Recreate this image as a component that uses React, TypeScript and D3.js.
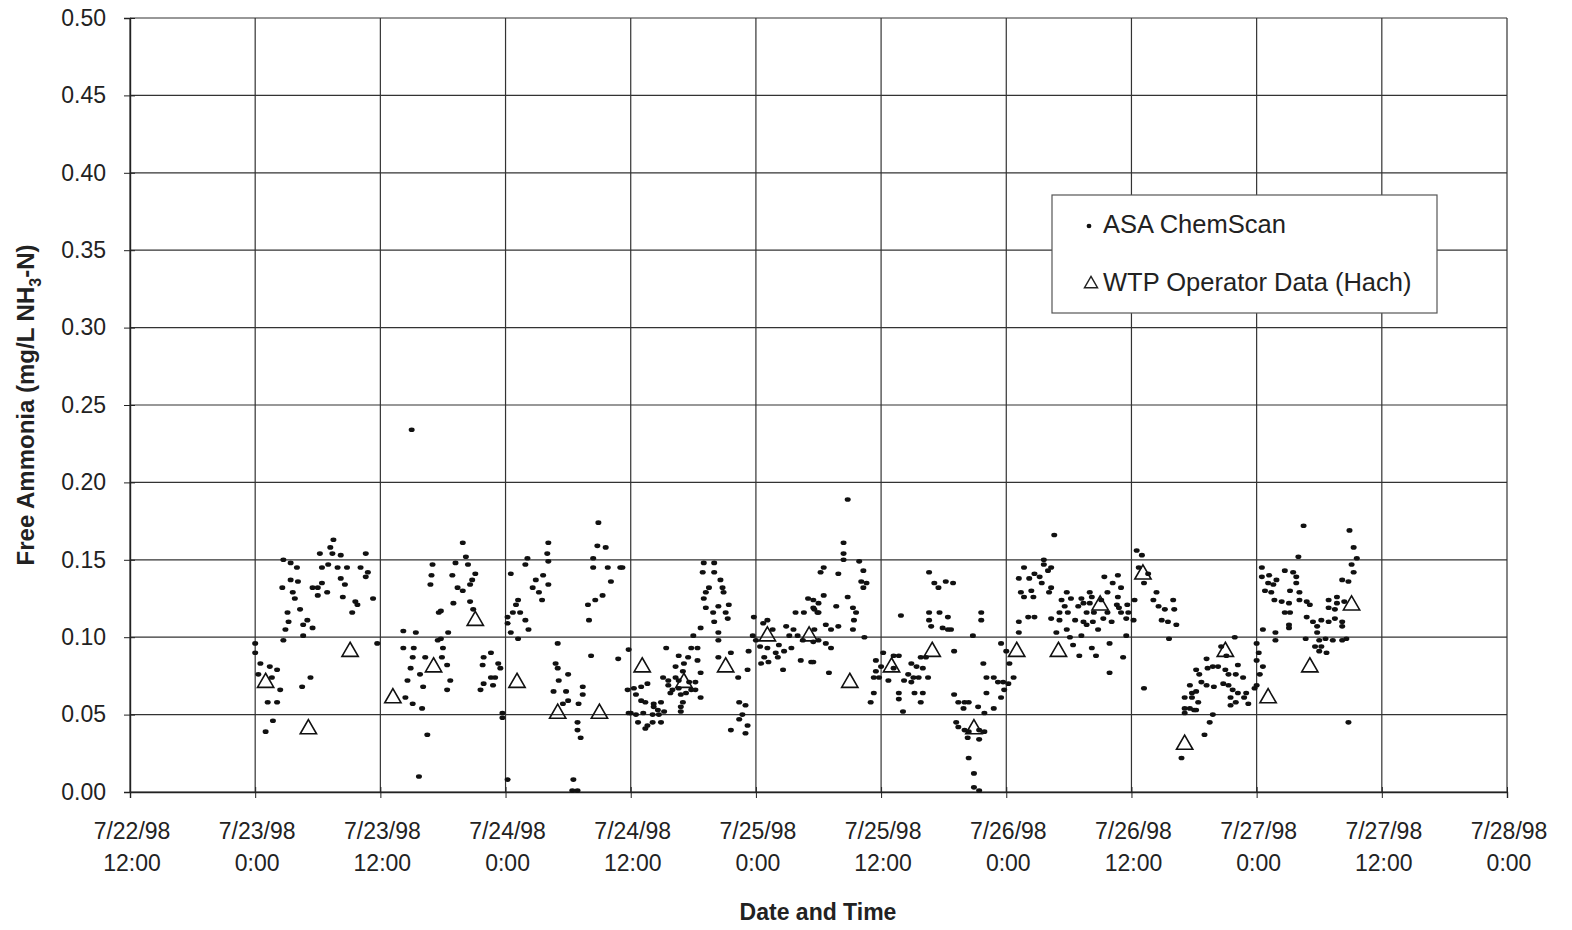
import React, { useEffect, useRef } from 'react';
import * as d3 from 'd3';

// hours since 7/23/98 0:00
const xTickHours = [-12, 0, 12, 24, 36, 48, 60, 72, 84, 96, 108, 120];
const xTickDates = ['7/22/98', '7/23/98', '7/23/98', '7/24/98', '7/24/98', '7/25/98', '7/25/98', '7/26/98', '7/26/98', '7/27/98', '7/27/98', '7/28/98'];
const xTickTimes = ['12:00', '0:00', '12:00', '0:00', '12:00', '0:00', '12:00', '0:00', '12:00', '0:00', '12:00', '0:00'];
const yTicks = [0, 0.05, 0.1, 0.15, 0.2, 0.25, 0.3, 0.35, 0.4, 0.45, 0.5];

// WTP Operator Data (Hach)
const hachHours = [1, 5.1, 9.1, 13.2, 17.1, 21.1, 25.1, 29, 33, 37.1, 41.1, 45.1, 49.1, 53.1, 57, 61, 64.9, 68.9, 73, 77, 81, 85.1, 89.1, 93, 97.1, 101.1, 105.1];
const hachValues = [0.07, 0.04, 0.09, 0.06, 0.08, 0.11, 0.07, 0.05, 0.05, 0.08, 0.07, 0.08, 0.1, 0.1, 0.07, 0.08, 0.09, 0.04, 0.09, 0.09, 0.12, 0.14, 0.03, 0.09, 0.06, 0.08, 0.12];

// ASA ChemScan [hours, mg/L]
const chemScan: [number, number][] = [
  [0, 0.096], [0, 0.09], [0.3, 0.076], [0.5, 0.083], [1.0, 0.039], [1.2, 0.058], [1.4, 0.081], [1.6, 0.074], [1.7, 0.046], [2.1, 0.079],
  [2.1, 0.058], [2.4, 0.066], [2.6, 0.132], [2.7, 0.15], [2.7, 0.098], [2.9, 0.105], [3.1, 0.116], [3.2, 0.11], [3.4, 0.148], [3.4, 0.137],
  [3.6, 0.129], [3.8, 0.125], [4.0, 0.145], [4.1, 0.136], [4.3, 0.118], [4.5, 0.068], [4.6, 0.108], [4.6, 0.101], [5.0, 0.111], [5.3, 0.074],
  [5.5, 0.132], [5.5, 0.106], [6.0, 0.132], [6.0, 0.127], [6.2, 0.154], [6.4, 0.145], [6.4, 0.135], [6.9, 0.129], [7.0, 0.147], [7.2, 0.158],
  [7.4, 0.154], [7.5, 0.163], [7.9, 0.145], [8.2, 0.153], [8.2, 0.138], [8.4, 0.126], [8.6, 0.134], [8.8, 0.145], [9.3, 0.116], [9.6, 0.123],
  [9.8, 0.121], [10.1, 0.145], [10.6, 0.154], [10.6, 0.139], [10.8, 0.142], [11.3, 0.125], [11.7, 0.096],
  [14.2, 0.104], [14.2, 0.093], [14.4, 0.061], [14.6, 0.072], [14.9, 0.08], [15.0, 0.234], [15.1, 0.087], [15.1, 0.057], [15.2, 0.093], [15.4, 0.103],
  [15.7, 0.01], [15.8, 0.076], [16.0, 0.054], [16.1, 0.068], [16.3, 0.087], [16.5, 0.037], [16.8, 0.134], [16.9, 0.14], [17.0, 0.147], [17.5, 0.098],
  [17.6, 0.116], [17.8, 0.117], [17.8, 0.099], [17.9, 0.087], [18.0, 0.093], [18.4, 0.082], [18.4, 0.066], [18.5, 0.103], [18.7, 0.072], [18.9, 0.14],
  [19.0, 0.122], [19.2, 0.148], [19.4, 0.132], [19.9, 0.161], [19.9, 0.13], [20.2, 0.152], [20.4, 0.147], [20.6, 0.134], [20.6, 0.123], [20.8, 0.137],
  [20.9, 0.118], [21.1, 0.141], [21.6, 0.066], [21.8, 0.082], [21.9, 0.087], [21.9, 0.07], [22.6, 0.09], [22.6, 0.074], [22.8, 0.069], [23.0, 0.074],
  [23.3, 0.083], [23.5, 0.08], [23.7, 0.051], [23.7, 0.048], [24.2, 0.113], [24.2, 0.109], [24.2, 0.008], [24.5, 0.141], [24.5, 0.103], [24.7, 0.116],
  [25.0, 0.121], [25.2, 0.124], [25.2, 0.099], [25.4, 0.116], [25.9, 0.147], [25.9, 0.111], [26.1, 0.151], [26.2, 0.105], [26.6, 0.132], [26.9, 0.137],
  [27.2, 0.129], [27.5, 0.124], [27.6, 0.14], [28.0, 0.154], [28.1, 0.161], [28.1, 0.149], [28.1, 0.134], [28.6, 0.065], [28.8, 0.083], [29.0, 0.096],
  [29.0, 0.08], [29.1, 0.072], [29.5, 0.057], [29.8, 0.065], [30.0, 0.076], [30.0, 0.059], [30.4, 0.001], [30.5, 0.008], [30.9, 0.045], [30.9, 0.04],
  [30.9, 0.001], [31.0, 0.057], [31.2, 0.035], [31.4, 0.068], [31.4, 0.063], [31.9, 0.121], [32.0, 0.111], [32.2, 0.088], [32.4, 0.151], [32.4, 0.145],
  [32.6, 0.124], [32.8, 0.159], [32.9, 0.174], [33.3, 0.127], [33.6, 0.158], [33.8, 0.145], [34.1, 0.136], [34.8, 0.086], [35.0, 0.145], [35.2, 0.145],
  [35.7, 0.066], [35.8, 0.092], [35.8, 0.051], [36.0, 0.051], [36.3, 0.067], [36.5, 0.063], [36.5, 0.05], [36.7, 0.045], [37.0, 0.068], [37.0, 0.059],
  [37.2, 0.051], [37.4, 0.058], [37.4, 0.041], [37.6, 0.07], [37.6, 0.043], [38.1, 0.05], [38.1, 0.045], [38.2, 0.057], [38.2, 0.055], [38.6, 0.053],
  [38.7, 0.05], [38.9, 0.058], [38.9, 0.045], [39.1, 0.074], [39.2, 0.052], [39.4, 0.093], [39.6, 0.072], [39.6, 0.069], [39.8, 0.064], [40.0, 0.066],
  [40.3, 0.081], [40.3, 0.074], [40.6, 0.088], [40.6, 0.072], [40.6, 0.067], [40.8, 0.063], [40.8, 0.055], [40.8, 0.052], [41.0, 0.078], [41.0, 0.058],
  [41.1, 0.083], [41.3, 0.064], [41.5, 0.087], [41.6, 0.071], [41.8, 0.093], [41.8, 0.066], [42.0, 0.101], [42.2, 0.071], [42.2, 0.066], [42.4, 0.093],
  [42.4, 0.085], [42.7, 0.106], [42.7, 0.077], [42.7, 0.061], [42.9, 0.142], [43.0, 0.148], [43.0, 0.125], [43.2, 0.129], [43.2, 0.119], [43.5, 0.132],
  [43.9, 0.116], [44.0, 0.148], [44.0, 0.142], [44.0, 0.11], [44.4, 0.12], [44.4, 0.103], [44.4, 0.098], [44.4, 0.087], [44.6, 0.137], [44.8, 0.132],
  [44.9, 0.129], [45.1, 0.116], [45.3, 0.112], [45.4, 0.121], [45.6, 0.09], [45.6, 0.04], [46.3, 0.074], [46.4, 0.058], [46.4, 0.047], [46.7, 0.05],
  [47.0, 0.056], [47.0, 0.038], [47.2, 0.079], [47.2, 0.043], [47.3, 0.091], [47.7, 0.101], [47.8, 0.113], [48.0, 0.098], [48.4, 0.094], [48.5, 0.083],
  [48.7, 0.109], [48.8, 0.087], [49.1, 0.111], [49.1, 0.093], [49.2, 0.084], [49.6, 0.105], [49.9, 0.09], [50.1, 0.087], [50.2, 0.095], [50.6, 0.079],
  [50.7, 0.091], [50.9, 0.107], [51.2, 0.101], [51.4, 0.093], [51.6, 0.105], [51.8, 0.116], [52.0, 0.101], [52.3, 0.085], [52.5, 0.098], [52.6, 0.116],
  [53.0, 0.125], [53.3, 0.084], [53.5, 0.119], [53.5, 0.097], [53.5, 0.124], [53.5, 0.084], [53.6, 0.118], [53.6, 0.105], [53.9, 0.116], [54.0, 0.122],
  [54.0, 0.116], [54.0, 0.098], [54.2, 0.142], [54.5, 0.145], [54.5, 0.127], [54.7, 0.108], [54.7, 0.096], [55.0, 0.077], [55.2, 0.105], [55.2, 0.093],
  [55.7, 0.12], [55.9, 0.141], [55.9, 0.107], [56.4, 0.161], [56.4, 0.154], [56.4, 0.15], [56.8, 0.189], [56.8, 0.126], [57.3, 0.119], [57.3, 0.105],
  [57.4, 0.111], [57.6, 0.116], [57.9, 0.149], [58.1, 0.136], [58.3, 0.143], [58.3, 0.132], [58.4, 0.1], [58.6, 0.135], [59.0, 0.058], [59.3, 0.064],
  [59.3, 0.074], [59.5, 0.085], [59.5, 0.078], [59.8, 0.074], [60.0, 0.081], [60.2, 0.09], [60.7, 0.072], [61.2, 0.088], [61.2, 0.08], [61.7, 0.088],
  [61.7, 0.064], [61.7, 0.06], [61.9, 0.114], [62.1, 0.052], [62.2, 0.072], [62.6, 0.076], [62.9, 0.083], [62.9, 0.071], [63.1, 0.074], [63.2, 0.064],
  [63.4, 0.081], [63.6, 0.074], [63.8, 0.087], [63.8, 0.058], [64.0, 0.08], [64.0, 0.064], [64.3, 0.087], [64.5, 0.074], [64.6, 0.142], [64.6, 0.116],
  [64.6, 0.111], [64.8, 0.107], [65.1, 0.135], [65.5, 0.132], [65.6, 0.116], [65.9, 0.106], [66.2, 0.136], [66.4, 0.113], [66.4, 0.105], [66.7, 0.105],
  [66.9, 0.135], [67.0, 0.091], [67.0, 0.063], [67.2, 0.045], [67.4, 0.058], [67.4, 0.042], [67.9, 0.054], [68.0, 0.058], [68.0, 0.04], [68.3, 0.035],
  [68.4, 0.058], [68.4, 0.039], [68.4, 0.022], [68.8, 0.101], [68.9, 0.012], [68.9, 0.003], [69.3, 0.055], [69.4, 0.04], [69.4, 0.034], [69.4, 0.001],
  [69.6, 0.116], [69.6, 0.111], [69.8, 0.083], [69.9, 0.051], [69.9, 0.039], [70.1, 0.074], [70.1, 0.064], [70.8, 0.074], [70.8, 0.054], [71.2, 0.071],
  [71.5, 0.096], [71.5, 0.061], [71.7, 0.071], [71.8, 0.066], [72.0, 0.091], [72.2, 0.07], [72.3, 0.083], [72.7, 0.074], [73.2, 0.138], [73.2, 0.11],
  [73.2, 0.103], [73.4, 0.129], [73.7, 0.145], [73.7, 0.126], [74.1, 0.113], [74.2, 0.138], [74.4, 0.13], [74.6, 0.126], [74.7, 0.141], [74.7, 0.113],
  [75.2, 0.139], [75.4, 0.135], [75.6, 0.15], [75.6, 0.147], [76.0, 0.143], [76.1, 0.129], [76.3, 0.145], [76.3, 0.132], [76.3, 0.112], [76.6, 0.166],
  [76.8, 0.103], [77.1, 0.116], [77.1, 0.111], [77.3, 0.124], [77.6, 0.12], [77.8, 0.129], [77.8, 0.105], [77.9, 0.116], [78.1, 0.1], [78.2, 0.125],
  [78.4, 0.095], [78.6, 0.111], [78.9, 0.12], [79.0, 0.088], [79.2, 0.125], [79.2, 0.101], [79.4, 0.122], [79.4, 0.11], [79.7, 0.116], [79.7, 0.108],
  [80.0, 0.129], [80.0, 0.122], [80.2, 0.126], [80.2, 0.093], [80.3, 0.11], [80.4, 0.116], [80.6, 0.088], [80.8, 0.105], [81.1, 0.124], [81.3, 0.112],
  [81.4, 0.139], [81.7, 0.129], [81.7, 0.116], [81.9, 0.096], [81.9, 0.077], [82.1, 0.11], [82.2, 0.135], [82.6, 0.121], [82.7, 0.14], [82.7, 0.126],
  [82.8, 0.119], [83.0, 0.132], [83.0, 0.116], [83.2, 0.087], [83.5, 0.112], [83.5, 0.101], [83.6, 0.121], [83.7, 0.116], [84.2, 0.111], [84.3, 0.124],
  [84.5, 0.156], [84.7, 0.145], [85.0, 0.153], [85.2, 0.135], [85.2, 0.067], [85.6, 0.141], [86.1, 0.124], [86.4, 0.129], [86.6, 0.12], [86.9, 0.111],
  [87.2, 0.118], [87.5, 0.11], [87.6, 0.099], [88.0, 0.124], [88.1, 0.118], [88.3, 0.108], [88.8, 0.022], [89.1, 0.061], [89.1, 0.054], [89.1, 0.051],
  [89.6, 0.069], [89.6, 0.054], [89.8, 0.061], [89.8, 0.064], [90.0, 0.053], [90.2, 0.079], [90.2, 0.065], [90.2, 0.053], [90.4, 0.058], [90.5, 0.076],
  [90.7, 0.071], [91.0, 0.037], [91.2, 0.086], [91.2, 0.069], [91.3, 0.08], [91.5, 0.045], [91.8, 0.081], [91.8, 0.05], [91.9, 0.068], [92.3, 0.081],
  [92.6, 0.094], [92.8, 0.07], [93.0, 0.079], [93.1, 0.088], [93.3, 0.076], [93.3, 0.069], [93.5, 0.061], [93.5, 0.056], [93.7, 0.066], [93.9, 0.1],
  [94.0, 0.076], [94.0, 0.058], [94.2, 0.082], [94.2, 0.064], [94.7, 0.074], [94.8, 0.061], [95.0, 0.064], [95.2, 0.057], [95.8, 0.067], [96.0, 0.096],
  [96.0, 0.085], [96.0, 0.069], [96.2, 0.09], [96.3, 0.076], [96.5, 0.145], [96.5, 0.139], [96.6, 0.105], [96.6, 0.081], [96.8, 0.13], [97.1, 0.135],
  [97.2, 0.14], [97.4, 0.129], [97.6, 0.134], [97.7, 0.124], [97.8, 0.103], [97.8, 0.098], [97.9, 0.137], [98.4, 0.123], [98.7, 0.143], [98.7, 0.116],
  [99.1, 0.122], [99.1, 0.108], [99.1, 0.106], [99.2, 0.13], [99.2, 0.116], [99.5, 0.142], [99.8, 0.139], [99.8, 0.135], [100.0, 0.152], [100.1, 0.129],
  [100.1, 0.124], [100.5, 0.172], [100.7, 0.099], [100.8, 0.123], [100.8, 0.113], [101.1, 0.121], [101.4, 0.11], [101.6, 0.094], [101.8, 0.107], [101.8, 0.103],
  [102.0, 0.098], [102.0, 0.091], [102.2, 0.111], [102.2, 0.094], [102.6, 0.099], [102.7, 0.09], [102.9, 0.124], [102.9, 0.119], [102.9, 0.11], [103.3, 0.098],
  [103.5, 0.118], [103.5, 0.112], [103.7, 0.126], [103.7, 0.122], [104.2, 0.137], [104.2, 0.11], [104.2, 0.107], [104.2, 0.098], [104.4, 0.123], [104.6, 0.099],
  [104.8, 0.136], [104.8, 0.045], [104.9, 0.169], [105.1, 0.147], [105.3, 0.158], [105.3, 0.142], [105.6, 0.151]
];

const W = 1572;
const H = 930;
const margin = { top: 18, right: 65, bottom: 138, left: 130 };
const font = 'Arial, "Liberation Sans", Helvetica, sans-serif';

const App: React.FC = () => {
  const svgRef = useRef<SVGSVGElement>(null);

  useEffect(() => {
    if (!svgRef.current) return;
    const svg = d3.select(svgRef.current);
    svg.selectAll('*').remove();

    const iw = W - margin.left - margin.right;
    const ih = H - margin.top - margin.bottom;

    const x = d3.scaleLinear().domain([-12, 120]).range([0, iw]);
    const y = d3.scaleLinear().domain([0, 0.5]).range([ih, 0]);

    svg.append('rect').attr('width', W).attr('height', H).attr('fill', '#fff');

    const g = svg.append('g').attr('transform', `translate(${margin.left},${margin.top})`);

    // grid
    g.append('g')
      .selectAll('line')
      .data(yTicks)
      .enter()
      .append('line')
      .attr('x1', 0)
      .attr('x2', iw)
      .attr('y1', d => y(d))
      .attr('y2', d => y(d))
      .attr('stroke', '#333')
      .attr('stroke-width', 1.2);

    g.append('g')
      .selectAll('line')
      .data(xTickHours)
      .enter()
      .append('line')
      .attr('x1', d => x(d))
      .attr('x2', d => x(d))
      .attr('y1', 0)
      .attr('y2', ih)
      .attr('stroke', '#333')
      .attr('stroke-width', 1.2);

    // Y axis
    const yAxisG = g.append('g').call(
      d3.axisLeft(y).tickValues(yTicks).tickSize(6).tickPadding(18).tickFormat(d3.format('.2f'))
    );
    yAxisG.select('.domain').attr('stroke', '#222').attr('stroke-width', 1.4);
    yAxisG.selectAll('line').attr('stroke', '#222').attr('x2', -6).attr('x1', 5);
    yAxisG.selectAll('text')
      .attr('fill', '#222')
      .attr('font-size', '23px')
      .attr('font-family', font);

    // X axis
    const xAxisG = g.append('g')
      .attr('transform', `translate(0,${ih})`)
      .call(d3.axisBottom(x).tickValues(xTickHours).tickSize(6).tickFormat(() => ''));
    xAxisG.select('.domain').attr('stroke', '#222').attr('stroke-width', 1.4);
    xAxisG.selectAll('line').attr('stroke', '#222').attr('y1', -5);

    const xl = g.append('g').attr('transform', `translate(0,${ih})`);
    xTickHours.forEach((h, i) => {
      const t = xl.append('text')
        .attr('text-anchor', 'middle')
        .attr('fill', '#222')
        .attr('font-size', '23px')
        .attr('font-family', font);
      t.append('tspan').attr('x', x(h) + 2).attr('y', 47).text(xTickDates[i]);
      t.append('tspan').attr('x', x(h) + 2).attr('y', 79).text(xTickTimes[i]);
    });

    // ChemScan dots
    g.append('g')
      .selectAll('ellipse')
      .data(chemScan)
      .enter()
      .append('ellipse')
      .attr('cx', d => x(d[0]))
      .attr('cy', d => y(d[1]))
      .attr('rx', 3)
      .attr('ry', 2.3)
      .attr('fill', '#111');

    // Hach triangles
    const tri = d3.symbol().type(d3.symbolTriangle).size(115);
    g.append('g')
      .selectAll('path')
      .data(hachHours)
      .enter()
      .append('path')
      .attr('d', tri)
      .attr('transform', (d, i) => `translate(${x(d)},${y(hachValues[i]) - 1})`)
      .attr('fill', 'none')
      .attr('stroke', '#111')
      .attr('stroke-width', 1.6);

    // legend
    const lg = svg.append('g').attr('transform', 'translate(1052,195)');
    lg.append('rect')
      .attr('width', 385)
      .attr('height', 118)
      .attr('fill', '#fff')
      .attr('stroke', '#555')
      .attr('stroke-width', 1.2);
    lg.append('ellipse').attr('cx', 37).attr('cy', 31).attr('rx', 2.4).attr('ry', 2.2).attr('fill', '#111');
    lg.append('text')
      .attr('x', 51)
      .attr('y', 38)
      .attr('font-size', '25.5px')
      .attr('font-family', font)
      .attr('fill', '#222')
      .text('ASA ChemScan');
    lg.append('path')
      .attr('d', d3.symbol().type(d3.symbolTriangle).size(75)())
      .attr('transform', 'translate(39,89)')
      .attr('fill', 'none')
      .attr('stroke', '#222')
      .attr('stroke-width', 1.4);
    lg.append('text')
      .attr('x', 51)
      .attr('y', 96)
      .attr('font-size', '25.5px')
      .attr('font-family', font)
      .attr('fill', '#222')
      .text('WTP Operator Data (Hach)');

    // axis titles
    svg.append('text')
      .attr('x', 818)
      .attr('y', 920)
      .attr('text-anchor', 'middle')
      .attr('font-size', '23px')
      .attr('font-weight', 'bold')
      .attr('font-family', font)
      .attr('fill', '#222')
      .text('Date and Time');

    const yt = svg.append('text')
      .attr('transform', 'translate(34,405) rotate(-90)')
      .attr('text-anchor', 'middle')
      .attr('font-size', '24px')
      .attr('font-weight', 'bold')
      .attr('font-family', font)
      .attr('fill', '#222');
    yt.append('tspan').text('Free Ammonia (mg/L NH');
    yt.append('tspan').attr('dy', 7).attr('font-size', '16px').text('3');
    yt.append('tspan').attr('dy', -7).text('-N)');
  }, []);

  return (
    <div style={{ position: 'absolute', left: 0, top: 0 }}>
      <svg ref={svgRef} width={W} height={H} style={{ display: 'block' }} />
    </div>
  );
};

export default App;
